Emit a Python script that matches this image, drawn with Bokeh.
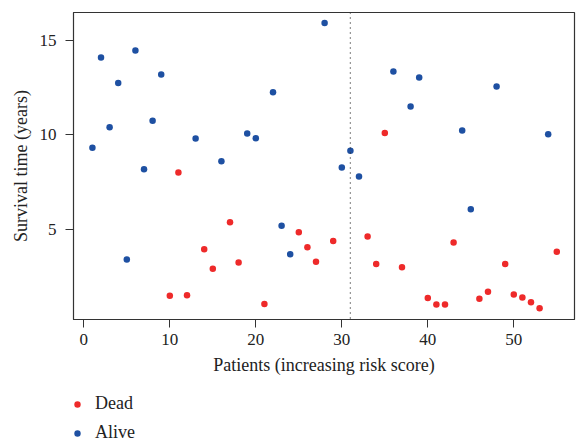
from bokeh.plotting import figure
from bokeh.layouts import column
from bokeh.models import Range1d, Span, Legend, LegendItem, FixedTicker
from bokeh.embed import file_html
from bokeh.resources import INLINE

# ---- data ----
patients = list(range(1, 56))
survival_years = [9.31, 14.10, 10.40, 12.75, 3.39, 14.47, 8.18, 10.74, 13.20, 1.47,
                  8.00, 1.50, 9.80, 3.94, 2.90, 8.60, 5.37, 3.23, 10.07, 9.82,
                  1.04, 12.26, 5.18, 3.67, 4.84, 4.04, 3.27, 15.92, 4.38, 8.27,
                  9.15, 7.79, 4.61, 3.16, 10.09, 13.35, 2.98, 11.50, 13.04, 1.36,
                  1.01, 1.01, 4.29, 10.23, 6.06, 1.31, 1.68, 12.56, 3.16, 1.54,
                  1.38, 1.13, 0.81, 10.03, 3.80]
status = ["A", "A", "A", "A", "A", "A", "A", "A", "A", "D",
          "D", "D", "A", "D", "D", "A", "D", "D", "A", "A",
          "D", "A", "A", "A", "D", "D", "D", "A", "D", "A",
          "A", "A", "D", "D", "D", "A", "D", "A", "A", "D",
          "D", "D", "D", "A", "A", "D", "D", "A", "D", "D",
          "D", "D", "D", "A", "D"]
cutoff_patient = 31
x_ticks = [0, 10, 20, 30, 40, 50]
y_ticks = [5, 10, 15]
legend_labels = ["Dead", "Alive"]

RED = "#EE2A2A"
BLUE = "#1E50A2"
FONT = "Liberation Serif"

dead_x = [x for x, s in zip(patients, status) if s == "D"]
dead_y = [y for y, s in zip(survival_years, status) if s == "D"]
alive_x = [x for x, s in zip(patients, status) if s == "A"]
alive_y = [y for y, s in zip(survival_years, status) if s == "A"]

# ---- main scatter plot ----
p = figure(width=576, height=386, output_backend="svg", toolbar_location=None,
           x_range=Range1d(-1.2, 57.06), y_range=Range1d(0.215, 16.48),
           min_border_left=73, min_border_right=2, min_border_top=12,
           min_border_bottom=67)
p.background_fill_color = "white"
p.border_fill_color = "white"
p.xgrid.visible = False
p.ygrid.visible = False
p.outline_line_color = "#333333"
p.outline_line_width = 1.2

p.add_layout(Span(location=cutoff_patient, dimension="height",
                  line_color="#333333", line_width=1.3, line_dash="1 4"))

p.scatter(dead_x, dead_y, size=6.5, fill_color=RED, line_color=None)
p.scatter(alive_x, alive_y, size=6.5, fill_color=BLUE, line_color=None)

for ax, ticks in ((p.xaxis[0], x_ticks), (p.yaxis[0], y_ticks)):
    ax.ticker = FixedTicker(ticks=ticks)
    ax.major_tick_in = 0
    ax.major_tick_out = 8
    ax.minor_tick_in = 0
    ax.minor_tick_out = 0
    ax.axis_line_color = "#333333"
    ax.major_tick_line_color = "#333333"
    ax.major_label_text_font = FONT
    ax.major_label_text_font_size = "17px"
    ax.major_label_text_color = "#222222"
    ax.axis_label_text_font = FONT
    ax.axis_label_text_font_size = "18px"
    ax.axis_label_text_font_style = "normal"
    ax.axis_label_text_color = "#222222"

p.xaxis.axis_label = "Patients (increasing risk score)"
p.xaxis.major_label_standoff = 6
p.xaxis.axis_label_standoff = 7
p.yaxis.axis_label = "Survival time (years)"
p.yaxis.major_label_standoff = 9
p.yaxis.axis_label_standoff = 6
p.yaxis.major_label_orientation = "horizontal"

# ---- legend strip below the plot (its range hides the key glyphs' own points) ----
lg = figure(width=576, height=58, output_backend="svg", toolbar_location=None,
            x_range=Range1d(-100, -99), y_range=Range1d(-100, -99),
            x_axis_location=None, y_axis_location=None,
            min_border=0, min_border_left=0, min_border_right=0,
            min_border_top=0, min_border_bottom=0)
lg.outline_line_color = None
lg.xgrid.visible = False
lg.ygrid.visible = False
lg.background_fill_color = "white"
lg.border_fill_color = "white"
k_dead = lg.scatter(dead_x[:1], dead_y[:1], size=6.5, fill_color=RED, line_color=None)
k_alive = lg.scatter(alive_x[:1], alive_y[:1], size=6.5, fill_color=BLUE, line_color=None)

legend = Legend(items=[LegendItem(label=legend_labels[0], renderers=[k_dead]),
                       LegendItem(label=legend_labels[1], renderers=[k_alive])],
                location=(-4, 1), orientation="vertical",
                padding=0, margin=0, spacing=8,
                glyph_width=16, glyph_height=20, label_height=20,
                label_standoff=10,
                label_text_font=FONT, label_text_font_size="18px",
                label_text_color="#222222",
                border_line_color=None, background_fill_alpha=0)
lg.add_layout(legend)

open("out.html", "w").write(file_html(column(p, lg, spacing=0), INLINE))
